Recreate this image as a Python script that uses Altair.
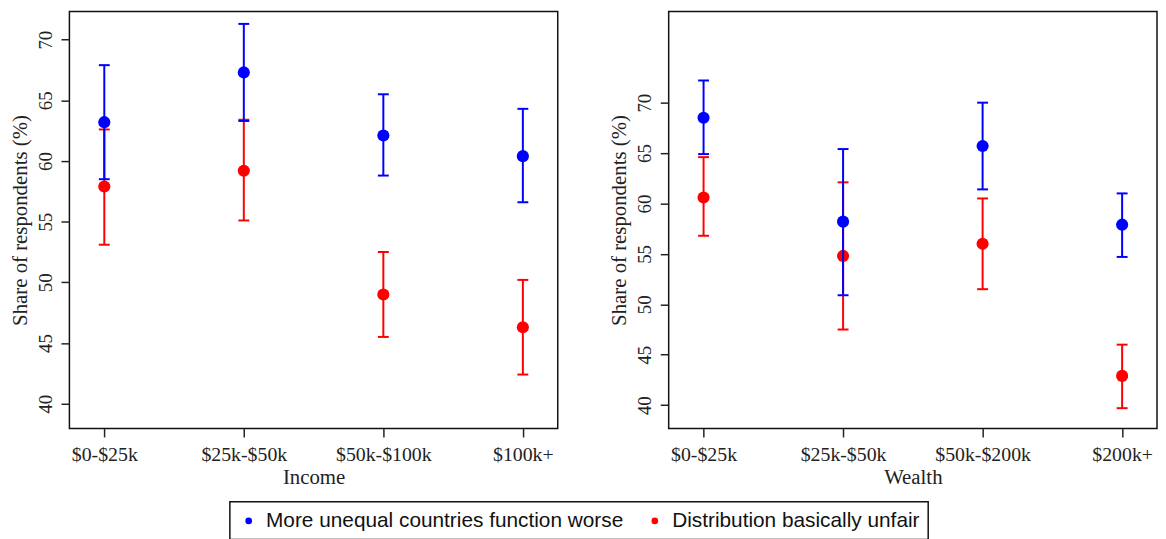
import altair as alt
import pandas as pd

series_names = ["More unequal countries function worse", "Distribution basically unfair"]
series_colors = ["#0000FF", "#FF0000"]

income_cats = ["$0-$25k", "$25k-$50k", "$50k-$100k", "$100k+"]
income_worse = [63.2, 67.3, 62.1, 60.4]
income_worse_lo = [58.5, 63.3, 58.8, 56.6]
income_worse_hi = [67.9, 71.3, 65.5, 64.3]
income_unfair = [57.9, 59.2, 49.0, 46.3]
income_unfair_lo = [53.1, 55.1, 45.5, 42.4]
income_unfair_hi = [62.6, 63.4, 52.5, 50.2]

wealth_cats = ["$0-$25k", "$25k-$50k", "$50k-$200k", "$200k+"]
wealth_worse = [68.5, 58.2, 65.7, 57.9]
wealth_worse_lo = [64.9, 50.9, 61.4, 54.7]
wealth_worse_hi = [72.2, 65.4, 70.0, 61.0]
wealth_unfair = [60.6, 54.8, 56.0, 42.9]
wealth_unfair_lo = [56.8, 47.5, 51.5, 39.7]
wealth_unfair_hi = [64.6, 62.1, 60.5, 46.0]

y_ticks = [40, 45, 50, 55, 60, 65, 70]
income_ydomain = [37.95, 72.32]
wealth_ydomain = [37.68, 79.04]


def make_df(cats, worse, worse_lo, worse_hi, unfair, unfair_lo, unfair_hi):
    rows = []
    for c, e, l, h in zip(cats, unfair, unfair_lo, unfair_hi):
        rows.append({"cat": c, "series": series_names[1], "est": e, "lo": l, "hi": h})
    for c, e, l, h in zip(cats, worse, worse_lo, worse_hi):
        rows.append({"cat": c, "series": series_names[0], "est": e, "lo": l, "hi": h})
    return pd.DataFrame(rows)


income_df = make_df(income_cats, income_worse, income_worse_lo, income_worse_hi,
                    income_unfair, income_unfair_lo, income_unfair_hi)
wealth_df = make_df(wealth_cats, wealth_worse, wealth_worse_lo, wealth_worse_hi,
                    wealth_unfair, wealth_unfair_lo, wealth_unfair_hi)

YTITLE = "Share of respondents (%)"


def panel(df, cats, ydom, xtitle):
    xenc = alt.X("cat:N", sort=cats,
                 scale=alt.Scale(type="point", domain=cats, padding=0.25),
                 axis=alt.Axis(title=xtitle, labelAngle=0, labelPadding=8, titlePadding=2))
    yscale = alt.Scale(domain=ydom, nice=False, zero=False)
    yaxis = alt.Axis(title=YTITLE, values=y_ticks, labelAngle=270, labelAlign="center",
                     labelBaseline="alphabetic", labelPadding=10, titlePadding=6)
    layers = []
    # red first, blue drawn on top
    for sname, scol in [(series_names[1], series_colors[1]), (series_names[0], series_colors[0])]:
        b = alt.Chart(df).transform_filter(alt.datum.series == sname)
        rule = b.mark_rule(strokeWidth=2, color=scol).encode(
            x=xenc, y=alt.Y("lo:Q", scale=yscale, axis=yaxis), y2="hi:Q")
        cap_lo = b.mark_tick(orient="horizontal", size=11, thickness=2, color=scol, opacity=1).encode(
            x=xenc, y=alt.Y("lo:Q", scale=yscale, axis=yaxis))
        cap_hi = b.mark_tick(orient="horizontal", size=11, thickness=2, color=scol, opacity=1).encode(
            x=xenc, y=alt.Y("hi:Q", scale=yscale, axis=yaxis))
        pt = b.mark_circle(size=150, opacity=1).encode(
            x=xenc, y=alt.Y("est:Q", scale=yscale, axis=yaxis),
            color=alt.Color("series:N",
                            scale=alt.Scale(domain=series_names, range=series_colors),
                            legend=alt.Legend(title=None)))
        layers += [rule, cap_lo, cap_hi, pt]
    return alt.layer(*layers).properties(width=493, height=421)


left = panel(income_df, income_cats, income_ydomain, "Income")
right = panel(wealth_df, wealth_cats, wealth_ydomain, "Wealth")

chart = alt.hconcat(left, right, spacing=49).resolve_scale(y="independent", x="independent").properties(
    padding={"left": 0, "top": 0, "right": 0, "bottom": 0}
).configure_view(
    stroke="#111", strokeWidth=1.5
).configure_axis(
    labelFont="Liberation Serif", titleFont="Liberation Serif",
    labelFontSize=19, titleFontSize=21, titleFontWeight="normal",
    labelColor="#222", titleColor="#222", tickColor="#222",
    tickSize=8.5, tickWidth=1.5, domain=False, grid=False
).configure_axisX(labelFontSize=20).configure_legend(
    orient="none", legendX=162, legendY=495, direction="horizontal",
    strokeColor="#111", strokeWidth=1.5, padding=8.5, fillColor="white",
    labelFont="Liberation Sans", labelFontSize=21, labelColor="#111", labelLimit=600,
    symbolType="circle", symbolSize=45, symbolStrokeWidth=0, labelOffset=7,
    columnPadding=21, cornerRadius=0
)

chart.save("out.html", embed_options={"renderer": "svg", "actions": False})
